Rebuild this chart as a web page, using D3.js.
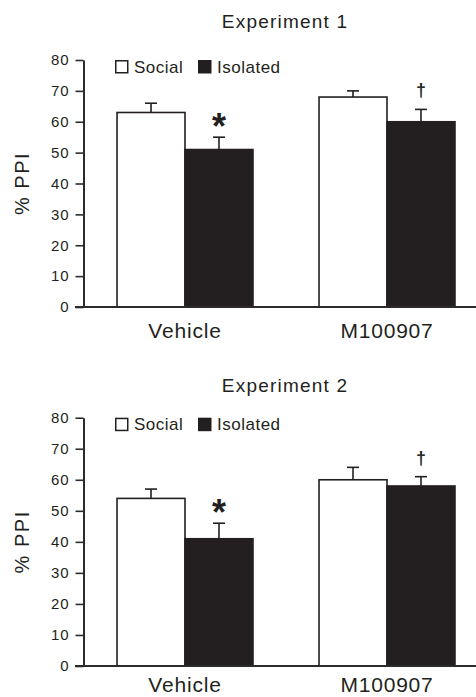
<!DOCTYPE html>
<html>
<head>
<meta charset="utf-8">
<script src="https://cdn.jsdelivr.net/npm/d3@7"></script>
<style>
  html, body { margin: 0; padding: 0; background: #fff; }
  svg { display: block; }
  text { font-family: "Liberation Sans", Arial, Helvetica, sans-serif; fill: #231f20; }
</style>
</head>
<body>
<div id="chart"></div>
<script>
// data
var categories = ["Vehicle", "M100907"];
var groups = ["Social", "Isolated"];
var yTicks = [0, 10, 20, 30, 40, 50, 60, 70, 80];

var exp1Social = [63, 68];
var exp1SocialErr = [3, 2];
var exp1Isolated = [51, 60];
var exp1IsolatedErr = [4, 4];

var exp2Social = [54, 60];
var exp2SocialErr = [3, 4];
var exp2Isolated = [41, 58];
var exp2IsolatedErr = [5, 3];

var isolatedMarks = ["*", "\u2020"];   // * vs social, dagger vs vehicle

var W = 476, H = 697;
var ink = "#231f20";

var svg = d3.select("#chart").append("svg")
  .attr("width", W)
  .attr("height", H);

function rows(social, socialErr, isolated, isolatedErr) {
  return categories.map(function (c, i) {
    return {
      cat: c,
      bars: [
        {group: "Social", value: social[i], err: socialErr[i]},
        {group: "Isolated", value: isolated[i], err: isolatedErr[i], mark: isolatedMarks[i]}
      ]
    };
  });
}

function drawPanel(title, data, top, bottom, titleY, catGap) {
  var g = svg.append("g");

  var y = d3.scaleLinear().domain([0, 80]).range([bottom, top]);
  var x0 = d3.scaleBand().domain(categories).range([84, 488])
    .paddingInner(0.327).paddingOuter(0.1635);
  var x1 = d3.scaleBand().domain(groups).range([0, x0.bandwidth()]);

  // title
  g.append("text")
    .attr("x", 285)
    .attr("y", titleY)
    .attr("text-anchor", "middle")
    .style("font-size", "19px")
    .style("letter-spacing", "1.2px")
    .text(title);

  // y axis
  var yAxis = d3.axisLeft(y)
    .tickValues(yTicks)
    .tickSize(8)
    .tickSizeOuter(0)
    .tickPadding(6);
  var ya = g.append("g")
    .attr("transform", "translate(83.5,0)")
    .call(yAxis);
  ya.select(".domain").attr("stroke", "#2b2b2b").attr("stroke-width", 2);
  ya.selectAll(".tick line").attr("stroke", "#2b2b2b").attr("stroke-width", 1.6);
  ya.selectAll(".tick text")
    .attr("fill", ink)
    .style("font-family", "'Liberation Sans', Arial, sans-serif")
    .style("font-size", "15px")
    .style("letter-spacing", "0.9px");

  // y label
  g.append("text")
    .attr("transform", "translate(29," + ((top + bottom) / 2) + ") rotate(-90)")
    .attr("text-anchor", "middle")
    .style("font-size", "20px")
    .style("letter-spacing", "1.5px")
    .text("% PPI");

  // bars
  var cat = g.selectAll(".cat")
    .data(data)
    .enter().append("g")
    .attr("class", "cat")
    .attr("transform", function (d) { return "translate(" + x0(d.cat) + ",0)"; });

  var bar = cat.selectAll(".bar")
    .data(function (d) { return d.bars; })
    .enter().append("g")
    .attr("class", "bar");

  bar.append("rect")
    .attr("x", function (d) { return x1(d.group); })
    .attr("y", function (d) { return y(d.value); })
    .attr("width", x1.bandwidth())
    .attr("height", function (d) { return y(0) - y(d.value); })
    .attr("fill", function (d) { return d.group === "Social" ? "#fff" : ink; })
    .attr("stroke", ink)
    .attr("stroke-width", 1.6);

  // error bars (upper only)
  bar.append("line")
    .attr("x1", function (d) { return x1(d.group) + x1.bandwidth() / 2; })
    .attr("x2", function (d) { return x1(d.group) + x1.bandwidth() / 2; })
    .attr("y1", function (d) { return y(d.value); })
    .attr("y2", function (d) { return y(d.value + d.err); })
    .attr("stroke", ink)
    .attr("stroke-width", 1.6);
  bar.append("line")
    .attr("x1", function (d) { return x1(d.group) + x1.bandwidth() / 2 - 6; })
    .attr("x2", function (d) { return x1(d.group) + x1.bandwidth() / 2 + 6; })
    .attr("y1", function (d) { return y(d.value + d.err); })
    .attr("y2", function (d) { return y(d.value + d.err); })
    .attr("stroke", ink)
    .attr("stroke-width", 1.6);

  // significance marks
  bar.filter(function (d) { return d.mark; })
    .append("text")
    .attr("x", function (d) { return x1(d.group) + x1.bandwidth() / 2; })
    .attr("y", function (d) {
      return d.mark === "*" ? y(d.value + d.err) + 2 : y(d.value + d.err) - 13;
    })
    .attr("text-anchor", "middle")
    .style("font-weight", "bold")
    .style("font-size", function (d) { return d.mark === "*" ? "36px" : "18px"; })
    .text(function (d) { return d.mark; });

  // x axis line
  g.append("line")
    .attr("x1", 75).attr("x2", W)
    .attr("y1", y(0)).attr("y2", y(0))
    .attr("stroke", "#2b2b2b")
    .attr("stroke-width", 2);

  // category labels
  g.selectAll(".catLabel")
    .data(categories)
    .enter().append("text")
    .attr("class", "catLabel")
    .attr("x", function (d) { return x0(d) + x0.bandwidth() / 2; })
    .attr("y", y(0) + catGap)
    .attr("text-anchor", "middle")
    .style("font-size", "21px")
    .style("letter-spacing", "0.8px")
    .text(function (d) { return d; });

  // legend
  var lg = g.append("g").attr("transform", "translate(0," + top + ")");
  var items = [{label: "Social", x: 115, fill: "#fff"}, {label: "Isolated", x: 198, fill: ink}];
  items.forEach(function (it) {
    lg.append("rect")
      .attr("x", it.x + 0.75).attr("y", 0.75)
      .attr("width", 12).attr("height", 12)
      .attr("fill", it.fill)
      .attr("stroke", ink)
      .attr("stroke-width", 1.5);
    lg.append("text")
      .attr("x", it.x + 19)
      .attr("y", 12.7)
      .style("font-size", "17px")
      .style("letter-spacing", "0.5px")
      .text(it.label);
  });
}

drawPanel("Experiment 1", rows(exp1Social, exp1SocialErr, exp1Isolated, exp1IsolatedErr), 60, 307, 27.5, 31);
drawPanel("Experiment 2", rows(exp2Social, exp2SocialErr, exp2Isolated, exp2IsolatedErr), 417.7, 666, 391.7, 26);
</script>
</body>
</html>
